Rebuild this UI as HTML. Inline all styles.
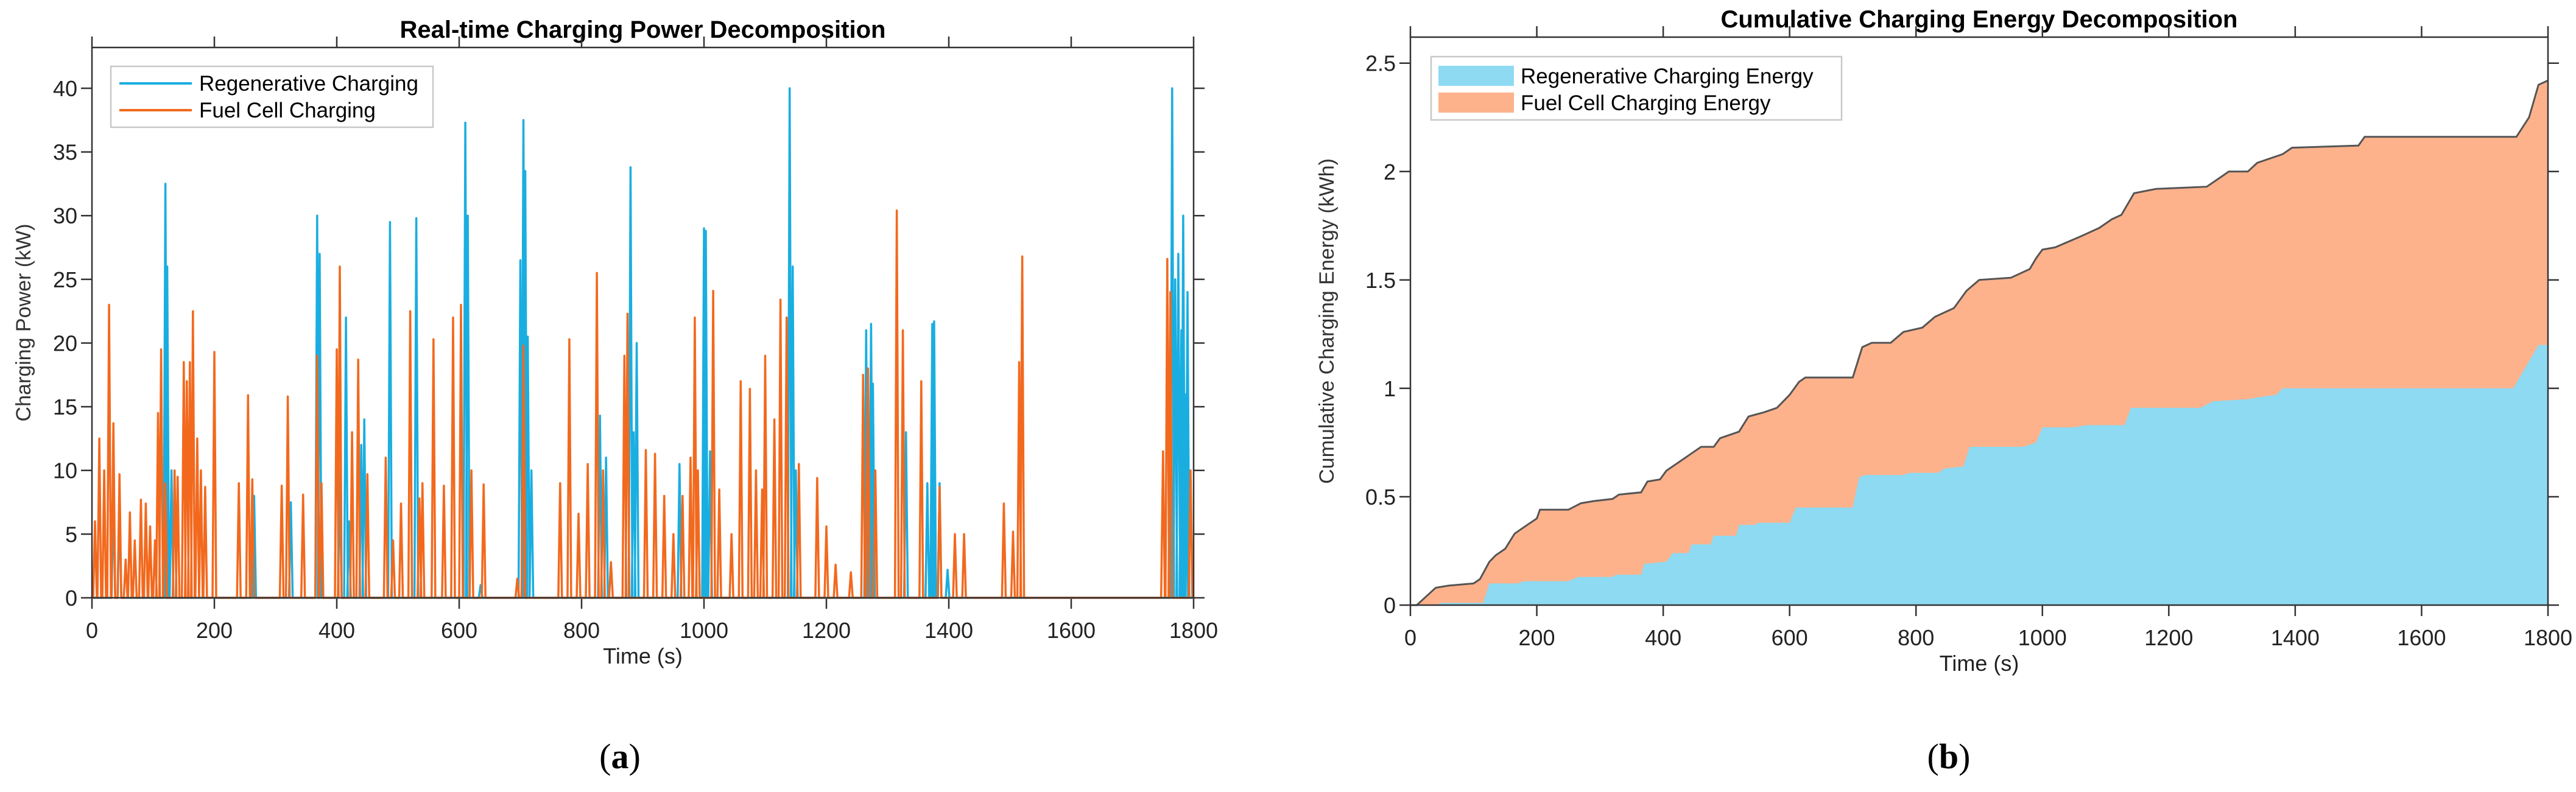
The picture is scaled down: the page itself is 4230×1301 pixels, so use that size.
<!DOCTYPE html>
<html><head><meta charset="utf-8">
<style>
html,body{margin:0;padding:0;background:#fff;}
svg{display:block;font-family:"Liberation Sans",Arial,sans-serif;}
</style></head>
<body>
<svg id="root" width="4230" height="1301" viewBox="0 0 4230 1301" xmlns="http://www.w3.org/2000/svg">
<g id="pa"></g>
<g id="pb"></g>
<text x="1018" y="1262" font-family="Liberation Serif, serif" font-size="58" text-anchor="middle">(<tspan font-weight="bold">a</tspan>)</text>
<text x="3200" y="1262" font-family="Liberation Serif, serif" font-size="58" text-anchor="middle">(<tspan font-weight="bold">b</tspan>)</text>
</svg>
<script>
// ---- Chart (a) data ----
const xTicks = [0,200,400,600,800,1000,1200,1400,1600,1800];
const yTicksA = [0,5,10,15,20,25,30,35,40];
const regenTimes = [35,45,120,123,130,265,325,368,372,405,415,420,440,445,487,530,610,614,635,700,705,708,712,718,830,840,880,885,890,960,1000,1003,1010,1140,1145,1150,1265,1268,1273,1276,1330,1365,1373,1376,1385,1398,1765,1770,1775,1780,1783,1788,1790];
const regenValues = [8,7.5,32.5,26,10,8,7.5,30,27,10,22,6,12,14,29.5,29.8,37.3,30,1,26.5,37.5,33.5,20.5,10,14.3,11,33.8,13,20,10.5,29,28.8,11.5,40,26,10,21,14,21.5,16.8,13,9,21.5,21.7,9,2.2,40,25,27,21,30,16,24];
const fuelTimes = [5,12,20,28,35,45,55,62,70,80,88,95,103,108,113,120,135,140,150,155,160,165,172,178,185,200,240,255,262,310,320,345,368,375,400,405,425,435,450,480,492,505,520,535,540,558,575,590,603,620,640,695,705,765,780,795,810,825,835,848,870,875,905,920,935,950,965,978,985,990,1015,1025,1045,1060,1075,1085,1095,1100,1115,1125,1135,1155,1185,1200,1215,1240,1260,1268,1280,1315,1325,1355,1385,1410,1425,1490,1505,1515,1520,1750,1757,1762,1795];
const fuelValues = [6,12.5,10,23,13.7,9.7,3,6.7,4.5,7.7,7.4,5.6,4.5,14.5,19.5,9,10,9.5,18.5,17,18.5,22.5,12.5,10,8.7,19.3,9,15.9,9.3,8.8,15.8,8.1,19,9,19.5,26,13,18.7,9.7,11,4.5,7.4,22.5,7.8,9,20.3,8.8,22,23,10,8.9,1.5,19.8,9,20.3,6.6,10.5,25.5,10,2.8,19,22.3,11.6,11.3,8,5,8,11,22,10,24.1,8.5,5,17,16.4,10,8.5,19,14,23.4,22,10.5,9.4,5.6,2.6,2,17.5,18,10,30.4,21,17,8.7,5,5,7.4,5.2,18.5,26.8,11.5,26.6,24,10];
// ---- Chart (b) data ----
const yTicksB = [0,0.5,1,1.5,2,2.5];
const yTickLabelsB = ["0","0.5","1","1.5","2","2.5"];
const regenCumT = [0,40,50,115,125,170,180,250,265,320,325,365,370,405,415,440,445,475,480,515,520,545,550,600,610,700,710,720,780,790,835,845,875,885,970,990,1000,1050,1070,1130,1140,1250,1270,1325,1345,1370,1380,1745,1765,1785,1800];
const regenCumV = [0,0,0.01,0.01,0.1,0.1,0.11,0.11,0.13,0.13,0.14,0.14,0.19,0.2,0.24,0.24,0.28,0.28,0.32,0.32,0.37,0.37,0.38,0.38,0.45,0.45,0.59,0.6,0.6,0.61,0.61,0.63,0.64,0.73,0.73,0.75,0.82,0.82,0.83,0.83,0.91,0.91,0.94,0.95,0.96,0.97,1.0,1.0,1.1,1.2,1.2];
const totalCumT = [0,10,25,40,60,100,110,125,135,150,165,185,200,205,250,270,290,320,330,365,375,395,405,425,445,460,480,490,520,535,560,580,600,615,625,700,715,730,760,780,810,830,860,880,900,950,980,990,1000,1020,1060,1090,1110,1125,1145,1180,1260,1280,1295,1325,1340,1380,1395,1500,1510,1750,1770,1785,1800];
const totalCumV = [0,0,0.04,0.08,0.09,0.1,0.12,0.2,0.23,0.26,0.33,0.37,0.4,0.44,0.44,0.47,0.48,0.49,0.51,0.52,0.57,0.58,0.62,0.66,0.7,0.73,0.73,0.77,0.8,0.87,0.89,0.91,0.97,1.03,1.05,1.05,1.19,1.21,1.21,1.26,1.28,1.33,1.37,1.45,1.5,1.51,1.55,1.6,1.64,1.65,1.7,1.74,1.78,1.8,1.9,1.92,1.93,1.97,2.0,2.0,2.04,2.08,2.11,2.12,2.16,2.16,2.25,2.4,2.42];

const NS="http://www.w3.org/2000/svg";
function mk(parent,tag,attrs,text){const e=document.createElementNS(NS,tag);for(const k in attrs)e.setAttribute(k,attrs[k]);if(text!==undefined)e.textContent=text;parent.appendChild(e);return e;}

function axes(g,L,R,T,B,ymax,yt,ytl,title,ylab,ylabX){
  const sx=v=>L+(v/1800)*(R-L), sy=v=>B-(v/ymax)*(B-T);
  const t=mk(g,'text',{x:(L+R)/2,y:T-16,'font-size':40,'font-weight':'bold','text-anchor':'middle'},title);
  
  xTicks.forEach(v=>{
    const x=sx(v);
    mk(g,'line',{x1:x,x2:x,y1:B,y2:B+18,stroke:'#333','stroke-width':2.5});
    mk(g,'line',{x1:x,x2:x,y1:T-18,y2:T,stroke:'#333','stroke-width':2.5});
    const l=mk(g,'text',{x:x,y:B+66,'font-size':36,'text-anchor':'middle',fill:'#222'},String(v));
    
  });
  yt.forEach((v,i)=>{
    const y=sy(v);
    mk(g,'line',{x1:L-18,x2:L,y1:y,y2:y,stroke:'#333','stroke-width':2.5});
    mk(g,'line',{x1:R,x2:R+18,y1:y,y2:y,stroke:'#333','stroke-width':2.5});
    const l=mk(g,'text',{x:L-24,y:y+13,'font-size':36,'text-anchor':'end',fill:'#222'},ytl[i]);
    
  });
  const xl=mk(g,'text',{x:(L+R)/2,y:B+108,'font-size':36,'text-anchor':'middle',fill:'#222'},'Time (s)');
  
  const yl=mk(g,'text',{x:0,y:0,'font-size':34,'text-anchor':'middle',fill:'#333',transform:`translate(${ylabX},${(T+B)/2}) rotate(-90)`},ylab);
  
  return {sx,sy};
}
function frame(g,L,R,T,B){
  const f=mk(g,'rect',{x:L,y:T,width:R-L,height:B-T,fill:'none',stroke:'#333','stroke-width':2.5});
  
}
function spikes(times,vals,sx,sy){
  let pts=[[0,0]];
  times.forEach((t,i)=>{pts.push([t-3,0],[t,vals[i]],[t+3,0]);});
  pts.push([1800,0]);
  return pts.map(p=>sx(p[0]).toFixed(1)+','+sy(p[1]).toFixed(1)).join(' ');
}

// Chart a
(function(){
  const g=document.getElementById('pa');
  const L=151,R=1960,T=78,B=982,ymax=43.2;
  const {sx,sy}=axes(g,L,R,T,B,ymax,yTicksA,yTicksA.map(String),'Real-time Charging Power Decomposition','Charging Power (kW)',50);
  const r=mk(g,'polyline',{points:spikes(regenTimes,regenValues,sx,sy),fill:'none',stroke:'#1aaee0','stroke-width':3.5,'stroke-linejoin':'round'});
  
  const f=mk(g,'polyline',{points:spikes(fuelTimes,fuelValues,sx,sy),fill:'none',stroke:'#f2691e','stroke-width':3.5,'stroke-linejoin':'round'});
  
  frame(g,L,R,T,B);
  const lg=mk(g,'g',{});
  
  mk(lg,'rect',{x:182,y:109,width:529,height:100,fill:'#fff',stroke:'#c8c8c8','stroke-width':2.5});
  mk(lg,'line',{x1:196,x2:315,y1:137,y2:137,stroke:'#1aaee0','stroke-width':4});
  mk(lg,'line',{x1:196,x2:315,y1:181,y2:181,stroke:'#f2691e','stroke-width':4});
  const e1=mk(lg,'text',{x:327,y:149,'font-size':35,'font-family':'Liberation Sans Narrow, Liberation Sans, sans-serif'},'Regenerative Charging');
  
  const e2=mk(lg,'text',{x:327,y:193,'font-size':35,'font-family':'Liberation Sans Narrow, Liberation Sans, sans-serif'},'Fuel Cell Charging');
  
})();

// Chart b
(function(){
  const g=document.getElementById('pb');
  const L=2316,R=4184,T=61,B=994,ymax=2.62;
  const {sx,sy}=axes(g,L,R,T,B,ymax,yTicksB,yTickLabelsB,'Cumulative Charging Energy Decomposition','Cumulative Charging Energy (kWh)',2190);
  const top=totalCumT.map((t,i)=>sx(t).toFixed(1)+','+sy(totalCumV[i]).toFixed(1)).join(' ');
  const f=mk(g,'polygon',{points:sx(0)+','+sy(0)+' '+top+' '+sx(1800)+','+sy(0),fill:'#fdb28c',stroke:'none'});
  
  const reg=regenCumT.map((t,i)=>sx(t).toFixed(1)+','+sy(regenCumV[i]).toFixed(1)).join(' ');
  const r=mk(g,'polygon',{points:sx(0)+','+sy(0)+' '+reg+' '+sx(1800)+','+sy(0),fill:'#8ddaf2',stroke:'none'});
  
  const tl=mk(g,'polyline',{points:top,fill:'none',stroke:'#555','stroke-width':3});
  
  frame(g,L,R,T,B);
  const lg=mk(g,'g',{});
  
  mk(lg,'rect',{x:2350,y:93,width:674,height:104,fill:'#fff',stroke:'#c8c8c8','stroke-width':2.5});
  mk(lg,'rect',{x:2362,y:108,width:124,height:33,fill:'#8ddaf2'});
  mk(lg,'rect',{x:2362,y:152,width:124,height:33,fill:'#fdb28c'});
  const e1=mk(lg,'text',{x:2497,y:137,'font-size':35,'font-family':'Liberation Sans Narrow, Liberation Sans, sans-serif'},'Regenerative Charging Energy');
  
  const e2=mk(lg,'text',{x:2497,y:181,'font-size':35,'font-family':'Liberation Sans Narrow, Liberation Sans, sans-serif'},'Fuel Cell Charging Energy');
  
})();
</script>
</body></html>
